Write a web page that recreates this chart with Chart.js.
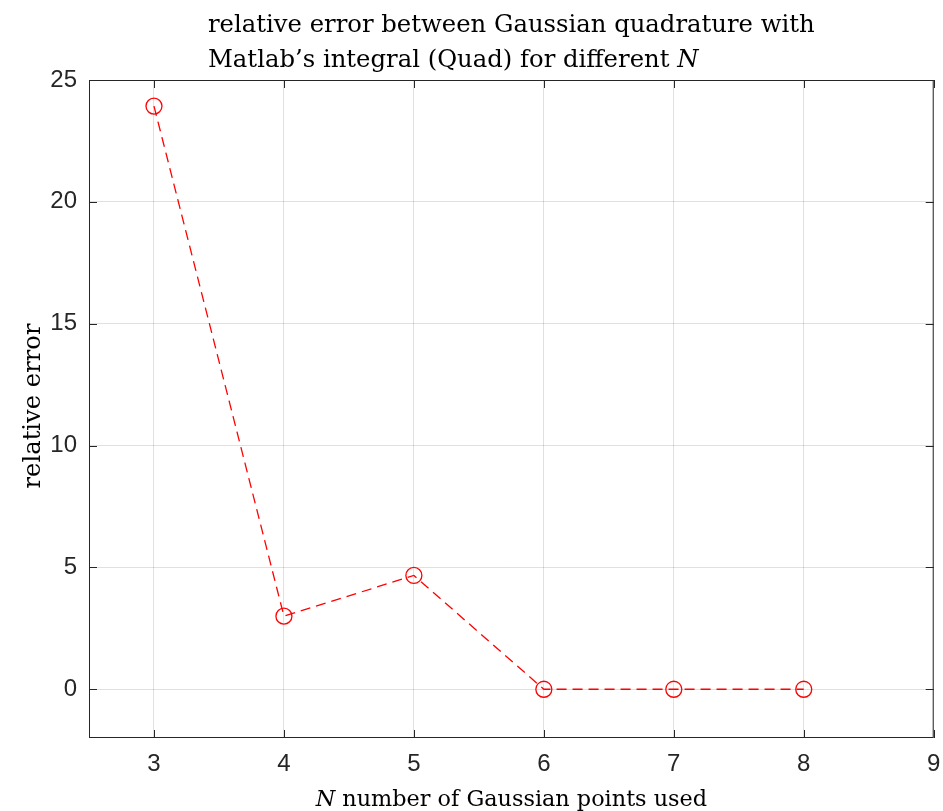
<!DOCTYPE html>
<html>
<head>
<meta charset="utf-8">
<script src="https://cdn.jsdelivr.net/npm/chart.js@4"></script>
<style>
  html, body { margin: 0; padding: 0; background: #fff; }
  #wrap { width: 943px; height: 811px; }
</style>
</head>
<body>
<div id="wrap"><canvas id="errChart" width="943" height="811"></canvas></div>
<script>
const N_POINTS = [3, 4, 5, 6, 7, 8];
const REL_ERROR = [23.93, 3.0, 4.67, 0.0, 0.0, 0.0];
const X_TICKS = [3, 4, 5, 6, 7, 8, 9];
const Y_TICKS = [0, 5, 10, 15, 20, 25];
const TITLE_LINES = ['relative error between Gaussian quadrature with', "Matlab\u2019s integral (Quad) for different "];

const SERIF = '"DejaVu Serif", "Liberation Serif", serif';
const SANS = '"Liberation Sans", Arial, sans-serif';
const AXIS_COLOR = '#262626';

// font size that makes a string about as wide as in the reference
function fitSize(ctx, text, target, style) {
  ctx.font = style + '20px ' + SERIF;
  return 20 * target / ctx.measureText(text).width;
}

// box round the axes with inward ticks, plus the serif title / labels
const matlabLook = {
  id: 'matlabLook',
  afterDraw(chart) {
    const ctx = chart.ctx;
    const a = chart.chartArea;
    const xs = chart.scales.x, ys = chart.scales.y;
    ctx.save();
    ctx.strokeStyle = AXIS_COLOR;
    ctx.lineWidth = 1;
    ctx.strokeRect(a.left + 0.5, a.top + 0.5, a.right - a.left - 1, a.bottom - a.top - 1);
    ctx.beginPath();
    X_TICKS.forEach(v => {
      const px = Math.round(xs.getPixelForValue(v)) + 0.5;
      ctx.moveTo(px, a.bottom); ctx.lineTo(px, a.bottom - 8);
      ctx.moveTo(px, a.top); ctx.lineTo(px, a.top + 8);
    });
    Y_TICKS.forEach(v => {
      const py = Math.round(ys.getPixelForValue(v)) + 0.5;
      ctx.moveTo(a.left, py); ctx.lineTo(a.left + 8, py);
      ctx.moveTo(a.right, py); ctx.lineTo(a.right - 8, py);
    });
    ctx.stroke();

    // title: block centred over the axes, lines left aligned
    ctx.fillStyle = '#000';
    ctx.textBaseline = 'alphabetic';
    ctx.textAlign = 'left';
    const ts = fitSize(ctx, TITLE_LINES[0], 607, '');
    ctx.font = ts + 'px ' + SERIF;
    const w1 = ctx.measureText(TITLE_LINES[0]).width;
    const x0 = (a.left + a.right) / 2 - w1 / 2;
    ctx.fillText(TITLE_LINES[0], x0, 32);
    ctx.fillText(TITLE_LINES[1], x0, 67);
    const w2 = ctx.measureText(TITLE_LINES[1]).width;
    ctx.font = 'italic ' + ts + 'px ' + SERIF;
    ctx.fillText('N', x0 + w2, 67);

    // x label
    const rest = 'number of Gaussian points used';
    const ls = fitSize(ctx, rest, 365, '');
    ctx.font = 'italic ' + ls + 'px ' + SERIF;
    const nW = ctx.measureText('N ').width;
    ctx.font = ls + 'px ' + SERIF;
    const rW = ctx.measureText(rest).width;
    const xl = (a.left + a.right) / 2 - (nW + rW) / 2;
    ctx.font = 'italic ' + ls + 'px ' + SERIF;
    ctx.fillText('N', xl, 806);
    ctx.font = ls + 'px ' + SERIF;
    ctx.fillText(rest, xl + nW, 806);

    // y label
    ctx.font = fitSize(ctx, 'relative error', 165, '') + 'px ' + SERIF;
    ctx.translate(40, 406);
    ctx.rotate(-Math.PI / 2);
    ctx.textAlign = 'center';
    ctx.fillText('relative error', 0, 0);
    ctx.restore();
  }
};

const errCtx = document.getElementById('errChart').getContext('2d');
const errChart = new Chart(errCtx, {
  type: 'scatter',
  data: {
    datasets: [{
      data: N_POINTS.map((n, i) => ({ x: n, y: REL_ERROR[i] })),
      showLine: true,
      borderColor: '#ff0000',
      borderWidth: 1.3,
      borderDash: [10, 6],
      pointStyle: 'circle',
      pointRadius: 8,
      pointBorderWidth: 1.3,
      pointBorderColor: '#ff0000',
      pointBackgroundColor: 'rgba(0,0,0,0)',
      clip: false
    }]
  },
  options: {
    responsive: false,
    animation: false,
    layout: { padding: { left: 0, right: 6, top: 80, bottom: 0 } },
    plugins: {
      legend: { display: false },
      title: { display: false },
      tooltip: { enabled: false }
    },
    scales: {
      x: {
        type: 'linear',
        min: 2.5,
        max: 9,
        afterBuildTicks: s => { s.ticks = X_TICKS.map(v => ({ value: v })); },
        afterFit: s => { s.height = 73; s.paddingRight = 0; s.paddingLeft = 0; },
        grid: { color: 'rgba(0,0,0,0.12)', drawTicks: false },
        border: { display: false },
        ticks: { color: AXIS_COLOR, font: { family: SANS, size: 24 }, padding: 12, maxRotation: 0 }
      },
      y: {
        type: 'linear',
        min: -2,
        max: 25,
        afterBuildTicks: s => { s.ticks = Y_TICKS.map(v => ({ value: v })); },
        afterFit: s => { s.width = 89; s.paddingTop = 0; s.paddingBottom = 0; },
        grid: { color: 'rgba(0,0,0,0.12)', drawTicks: false },
        border: { display: false },
        ticks: { color: AXIS_COLOR, font: { family: SANS, size: 24 }, padding: 12 }
      }
    }
  },
  plugins: [matlabLook]
});
</script>
</body>
</html>
